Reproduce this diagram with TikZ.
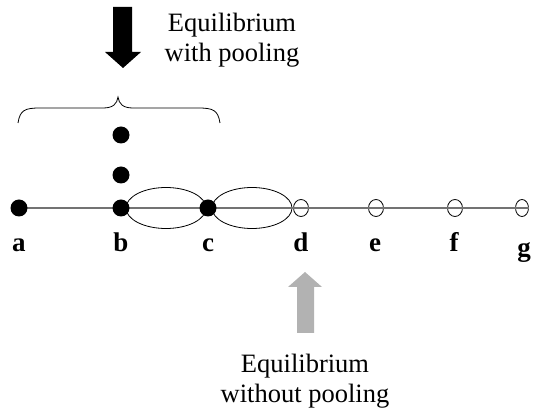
\documentclass[tikz,border=0pt]{standalone}
\usepackage{fontspec}
\setmainfont{Liberation Serif}
\usetikzlibrary{shapes.geometric}

\tikzset{
  dot/.style={circle,fill=black,inner sep=0pt,minimum size=17pt},
  hole/.style={ellipse,draw=black,line width=0.8pt,inner sep=0pt,minimum width=15pt,minimum height=17pt},
  pool/.style={ellipse,draw=black,line width=0.8pt,inner sep=0pt,minimum width=80pt,minimum height=41pt},
  lbl/.style={anchor=base,font=\fontsize{27}{30}\selectfont\bfseries,inner sep=0pt},
  note/.style={align=center,anchor=base,font=\fontsize{26.5}{30}\selectfont,inner sep=0pt},
  axis/.style={draw={rgb,255:red,115;green,115;blue,115},line width=1.6pt}
}

\begin{document}
\begin{tikzpicture}[x=1pt,y=-1pt]
  \useasboundingbox (0,0) rectangle (533,411);
  \node[hole] (d) at (301,208) {};
  \node[hole] (e) at (376,208) {};
  \node[hole] (f) at (455,208) {};
  \node[hole,minimum width=13pt] (g) at (522,208) {};
  \node[pool] (bc) at (166,208) {};
  \node[pool] (cd) at (252,208) {};
  \coordinate (a0) at (19,208);
  \draw[axis] (a0) -- (g.east);
  \node[dot] (a) at (a0) {};
  \node[dot] (b) at (121,208) {};
  \node[dot] (c) at (208,208) {};
  \node[dot] (b1) at (121,175) {};
  \node[dot] (b2) at (121,135) {};

  \node[lbl] at (19,252) {a};
  \node[lbl] at (121,252) {b};
  \node[lbl] at (208,252) {c};
  \node[lbl] at (301,252) {d};
  \node[lbl] at (375,252) {e};
  \node[lbl] at (454,252) {f};
  \node[lbl] at (524,257) {g};

  % the brace over the pool
  \draw[line width=0.8pt] (18,123) .. controls (20,110) and (25,108) .. (40,108) -- (103,108)
    .. controls (113,108) and (117,104) .. (118,97) .. controls (119,104) and (123,108) .. (133,108)
    -- (198,108) .. controls (213,108) and (218,110) .. (220,123);

  \fill[black] (113,7) -- (132,7) -- (132,52) -- (141,52) -- (123,68) -- (105,52) -- (113,52) -- cycle;
  \node[note] (wp) at (232,62) {Equilibrium\\with pooling};

  \fill[gray!60] (297,333) -- (314,333) -- (314,287) -- (322,287) -- (305,272) -- (288,287) -- (297,287) -- cycle;
  \node[note] (np) at (305,403) {Equilibrium\\without pooling};
\end{tikzpicture}
\end{document}
